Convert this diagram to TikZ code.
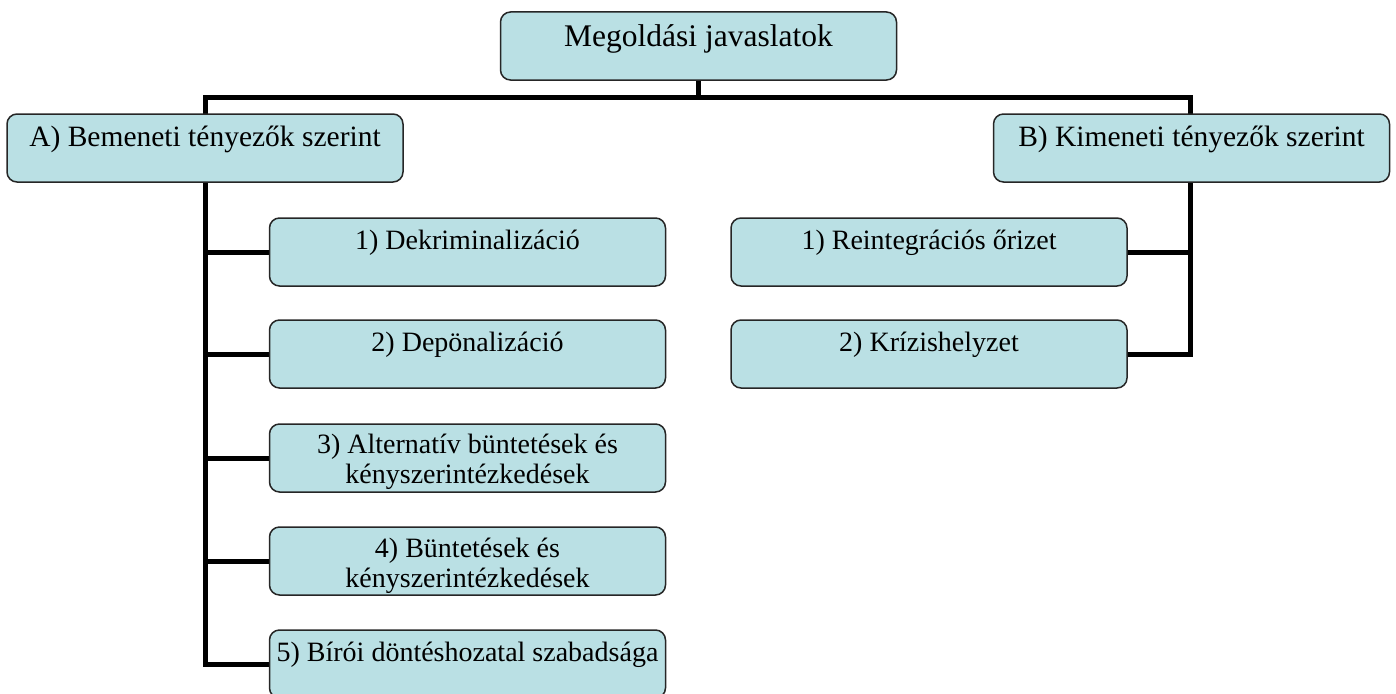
\documentclass[tikz,border=0pt]{standalone}
\usepackage{fontspec}
\setmainfont{Liberation Serif}
\usetikzlibrary{backgrounds}
\definecolor{boxfill}{RGB}{186,224,228}
\begin{document}
\begin{tikzpicture}[x=1pt,y=-1pt,
  box/.style={draw=black!85, line width=1.5pt, fill=boxfill, rounded corners=10pt,
    minimum width=396pt, minimum height=68pt, inner sep=0pt},
  conn/.style={line width=5pt, draw=black},
  lbl/.style={anchor=base, inner sep=0pt},
  bigf/.style={font=\fontsize{31.5}{33}\selectfont},
  midf/.style={font=\fontsize{29.5}{31}\selectfont},
  smf/.style={font=\fontsize{28}{30}\selectfont}]
\clip (0,0) rectangle (1396,693);
% boxes
\node[box] (top) at (698.5,46) {};
\node[lbl,bigf] (topt) at (698.5,46) {Megoldási javaslatok};
\node[box] (A) at (205,148) {};
\node[lbl,midf] (At) at (205,146.5) {A) Bemeneti tényezők szerint};
\node[box] (B) at (1191.5,148) {};
\node[lbl,midf] (Bt) at (1191.5,146.5) {B) Kimeneti tényezők szerint};
% left children
\node[box] (c1) at (467.5,252) {};
\node[lbl,smf] (c1t) at (467.5,249) {1) Dekriminalizáció};
\node[box] (c2) at (467.5,354) {};
\node[lbl,smf] (c2t) at (467.5,351) {2) Depönalizáció};
\node[box] (c3) at (467.5,458) {};
\node[lbl,smf] (c3t) at (467.5,453.5) {\setlength{\tabcolsep}{0pt}\begin{tabular}[t]{c}3) Alternatív büntetések és\\ kényszerintézkedések\end{tabular}};
\node[box] (c4) at (467.5,561) {};
\node[lbl,smf] (c4t) at (467.5,557.5) {\setlength{\tabcolsep}{0pt}\begin{tabular}[t]{c}4) Büntetések és\\ kényszerintézkedések\end{tabular}};
\node[box] (c5) at (467.5,664) {};
\node[lbl,smf] (c5t) at (467.5,661) {5) Bírói döntéshozatal szabadsága};
% right children
\node[box] (r1) at (929,252) {};
\node[lbl,smf] (r1t) at (929,249) {1) Reintegrációs őrizet};
\node[box] (r2) at (929,354) {};
\node[lbl,smf] (r2t) at (929,351) {2) Krízishelyzet};
% connectors
\begin{scope}[on background layer]
\coordinate (lx) at (205,97);
\coordinate (rx) at (1190,97);
\draw[conn] (top.south) -- (top.south |- lx);
\draw[conn] (c5.west) -| (lx) -- (rx) |- (r2.east);
\draw[conn] (c1.west) -- (c1.west -| lx);
\draw[conn] (c2.west) -- (c2.west -| lx);
\draw[conn] (c3.west) -- (c3.west -| lx);
\draw[conn] (c4.west) -- (c4.west -| lx);
\draw[conn] (r1.east) -- (r1.east -| rx);
\end{scope}
\end{tikzpicture}
\end{document}
